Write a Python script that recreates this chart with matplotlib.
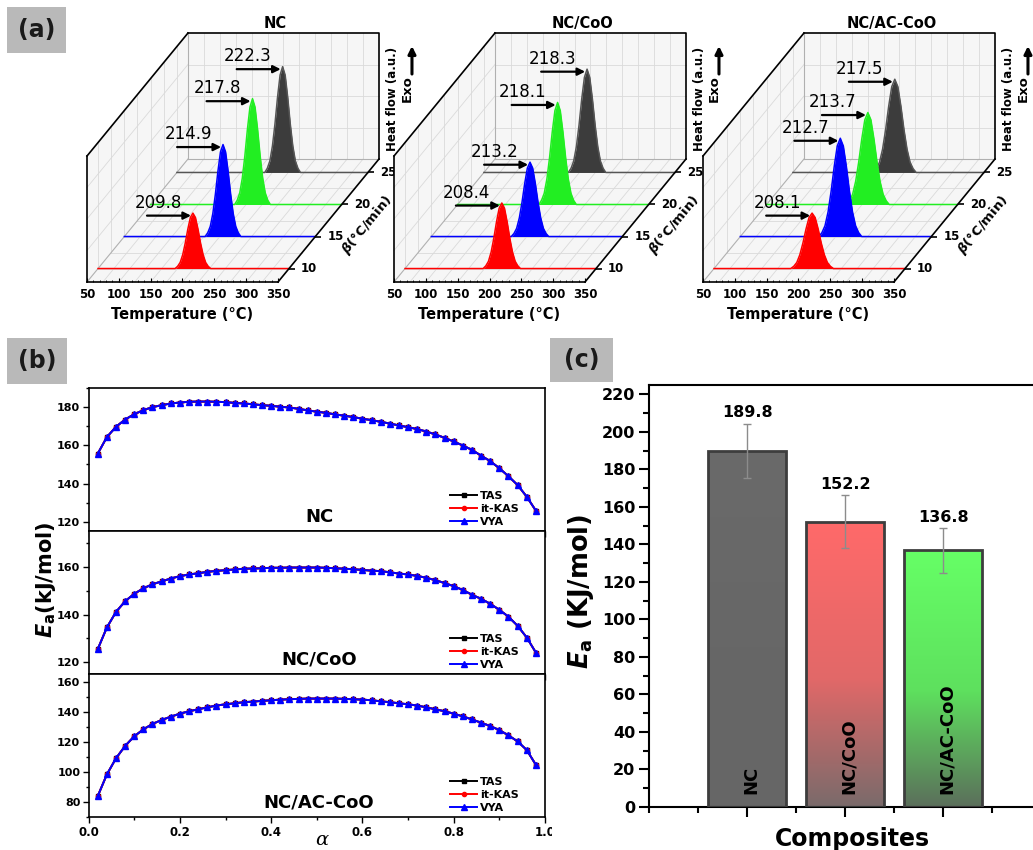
"""
Three-panel kinetics figure: DSC waterfalls (a), isoconversional Ea curves (b)
and the mean activation energy per composite (c).
"""
import numpy as np
import matplotlib.pyplot as plt
from matplotlib.patches import Polygon, Rectangle
from matplotlib.colors import LinearSegmentedColormap
from matplotlib.ticker import MultipleLocator, NullFormatter
from matplotlib.transforms import offset_copy

plt.rcParams["font.family"] = ["DejaVu Sans"]
plt.rcParams["font.weight"] = "bold"
plt.rcParams["axes.labelweight"] = "bold"
plt.rcParams["mathtext.fontset"] = "custom"
plt.rcParams["mathtext.rm"] = "DejaVu Sans:bold"
plt.rcParams["mathtext.it"] = "DejaVu Sans:italic:bold"
plt.rcParams["mathtext.bf"] = "DejaVu Sans:bold"

FIG_W, FIG_H = 1033, 850

# ---------------- panel (a): DSC curves ----------------
samples = ["NC", "NC/CoO", "NC/AC-CoO"]
heating_rates = [10, 15, 20, 25]
peak_labels = [[209.8, 214.9, 217.8, 222.3],
               [208.4, 213.2, 218.1, 218.3],
               [208.1, 212.7, 213.7, 217.5]]
# where the peaks sit on the drawn temperature axis
peak_centres = [[199, 205, 210, 216],
                [202, 205, 207, 212],
                [204, 207, 209, 210]]
peak_heights = [[0.44, 0.73, 0.84, 0.84],
                [0.52, 0.59, 0.81, 0.82],
                [0.44, 0.78, 0.73, 0.74]]
peak_widths = [1.0, 1.05, 1.2]
# peak outline (offset in °C, relative heat flow)
shape_dT = [-28, -24, -20, -16, -12, -8, -4, 0, 4, 8, 12, 16, 20, 24, 28]
shape_h = [0, 0.04, 0.11, 0.25, 0.46, 0.71, 0.92, 1, 0.92, 0.71, 0.46, 0.25, 0.11, 0.04, 0]
fill_colors = ["#ff0000", "#0000ff", "#22ee22", "#3c3c3c"]
line_colors = ["#ff0000", "#0000ff", "#22ee22", "#555555"]

# ---------------- panel (b): Ea vs conversion ----------------
alpha = np.round(np.arange(1, 50) * 0.02, 2)
ea_nc = [155.6, 164.3, 169.7, 173.5, 176.3, 178.4, 180.0, 181.0, 181.9, 182.4,
         182.8, 182.9, 182.9, 182.8, 182.6, 182.2, 181.9, 181.5, 181.0, 180.7,
         180.2, 179.8, 179.1, 178.3, 177.6, 177.0, 176.2, 175.5, 174.8, 173.9,
         173.2, 172.3, 171.4, 170.4, 169.5, 168.5, 167.2, 165.7, 163.9, 162.0,
         159.9, 157.6, 154.6, 151.7, 148.0, 143.8, 139.2, 133.1, 125.8]
ea_nc_coo = [125.5, 134.6, 141.1, 145.6, 148.7, 151.0, 152.7, 153.9, 155.1, 156.1,
             156.8, 157.3, 157.9, 158.3, 158.6, 158.9, 159.2, 159.3, 159.4, 159.6,
             159.6, 159.7, 159.7, 159.7, 159.7, 159.6, 159.4, 159.2, 159.0, 158.7,
             158.4, 158.2, 157.7, 157.2, 156.8, 156.2, 155.4, 154.4, 153.2, 151.9,
             150.3, 148.3, 146.6, 144.5, 142.0, 139.1, 135.3, 130.4, 124.1]
ea_nc_ac_coo = [84.0, 98.4, 109.1, 117.3, 123.7, 128.3, 131.9, 134.5, 136.7, 138.7,
                140.3, 141.6, 142.9, 144.1, 144.9, 145.6, 146.3, 146.7, 147.2, 147.6,
                148.0, 148.3, 148.5, 148.7, 148.7, 148.7, 148.7, 148.5, 148.3, 148.0,
                147.6, 146.9, 146.3, 145.6, 144.9, 144.1, 142.9, 141.6, 140.3, 138.7,
                136.9, 134.9, 132.7, 130.5, 127.8, 124.3, 120.3, 114.6, 104.8]
ea_curves = [ea_nc, ea_nc_coo, ea_nc_ac_coo]
methods = ["TAS", "it-KAS", "VYA"]
method_colors = ["black", "red", "blue"]
method_markers = ["s", "o", "^"]
method_sizes = [2.8, 3.0, 4.6]

# ---------------- panel (c): mean Ea ----------------
composites = ["NC", "NC/CoO", "NC/AC-CoO"]
ea_mean = [189.8, 152.2, 136.8]
ea_err = [14.3, 14.0, 11.8]
bar_gradients = [["#666666", "#676767", "#6a6a6a"],
                 ["#7a6b6b", "#e26868", "#ff6a6a"],
                 ["#5b6f5b", "#5ee05e", "#66ff66"]]

# oblique projection for the waterfall: full depth shift in front-face data units
KX, KY = 158.6, 0.976
B0, B1 = 7.9, 27.1


def oblique(T, H, beta):
    d = (np.asarray(beta, float) - B0) / (B1 - B0)
    return np.asarray(T, float) + KX * d, np.asarray(H, float) + KY * d


def pt(T, H, beta):
    x, y = oblique(T, H, beta)
    return float(x), float(y)


def fig_rect(left, top, width, height):
    return [left / FIG_W, 1 - (top + height) / FIG_H, width / FIG_W, height / FIG_H]


def draw_dsc(fig, ax, k):
    ax.set_xlim(50, 350)
    ax.set_ylim(0, 1)
    ax.patch.set_visible(False)
    for side in ("top", "right"):
        ax.spines[side].set_visible(False)
    for side in ("left", "bottom"):
        ax.spines[side].set_linewidth(1.2)
        ax.spines[side].set_zorder(4)
    ax.set_yticks([])
    ax.xaxis.set_major_locator(MultipleLocator(50))
    ax.xaxis.set_minor_locator(MultipleLocator(10))
    ax.tick_params(axis="x", which="both", direction="in", pad=4, labelsize=8.5)
    ax.tick_params(axis="x", which="major", length=3)
    ax.tick_params(axis="x", which="minor", length=1.5)
    ax.set_xlabel("Temperature (°C)", fontsize=10.5, labelpad=5)

    # walls
    walls = [oblique([50, 350, 350, 50], [0, 0, 1, 1], B1),
             oblique([50, 350, 350, 50], 0, [B0, B0, B1, B1]),
             oblique(50, [0, 1, 1, 0], [B0, B0, B1, B1])]
    for wx, wy in walls:
        ax.add_patch(Polygon(np.column_stack(np.broadcast_arrays(wx, wy)), closed=True,
                             fc="#f6f6f6", ec="none", zorder=0, clip_on=False))
    grid_kw = dict(color="#dadada", lw=0.6, zorder=0.5, clip_on=False)
    for T in np.arange(75, 350, 25):
        ax.plot(*oblique([T, T], [0, 1], B1), **grid_kw)
        ax.plot(*oblique([T, T], [0, 0], [B0, B1]), **grid_kw)
    for H in (0.25, 0.5, 0.75):
        ax.plot(*oblique([50, 350], [H, H], B1), **grid_kw)
        ax.plot(*oblique([50, 50], [H, H], [B0, B1]), **grid_kw)
    for b in np.arange(10, 27, 2.5):
        ax.plot(*oblique([50, 50], [0, 1], b), **grid_kw)
        ax.plot(*oblique([50, 350], [0, 0], b), **grid_kw)
    faint_kw = dict(color="#b0b0b0", lw=0.8, zorder=0.6, clip_on=False)
    ax.plot(*oblique([50, 50], [0, 1], B1), **faint_kw)
    ax.plot(*oblique([50, 350], [0, 0], B1), **faint_kw)
    ax.plot(*oblique([50, 50], [0, 0], [B0, B1]), **faint_kw)

    edge_kw = dict(color="black", lw=1.2, zorder=4, clip_on=False)
    ax.plot(*oblique([50, 50], [1, 1], [B0, B1]), **edge_kw)
    ax.plot(*oblique([50, 350, 350], [1, 1, 0], B1), **edge_kw)
    ax.plot(*oblique([350, 350], [0, 0], [B0, B1]), **edge_kw)

    # traces, back to front
    for j in reversed(range(len(heating_rates))):
        beta = heating_rates[j]
        T = np.concatenate([[50], peak_centres[k][j] + np.array(shape_dT) * peak_widths[k], [350]])
        H = np.concatenate([[0], peak_heights[k][j] * np.array(shape_h), [0]])
        x, y = oblique(T, H, beta)
        _, y0 = oblique(T, np.zeros_like(T), beta)
        z = 2 + (3 - j) * 0.1
        ax.fill_between(x, y0, y, color=fill_colors[j], lw=0, zorder=z, clip_on=False)
        ax.plot(x, y, color=line_colors[j], lw=1.1, zorder=z, clip_on=False)

    # peak temperature arrows
    for j, beta in enumerate(heating_rates):
        tip = pt(peak_centres[k][j] - 3, peak_heights[k][j] - 0.02, beta)
        ax.annotate("", xy=tip, xytext=(-44, 0), textcoords="offset pixels",
                    arrowprops=dict(arrowstyle="-|>", color="black", lw=1.6,
                                    mutation_scale=11, shrinkA=0, shrinkB=0),
                    annotation_clip=False, zorder=5)
        ax.annotate(f"{peak_labels[k][j]:.1f}", xy=tip, xytext=(-33, 13),
                    textcoords="offset pixels", ha="center", va="center",
                    fontsize=12, fontweight="normal", annotation_clip=False, zorder=5)

    # heating-rate axis
    for b in heating_rates:
        ax.plot(*pt(350, 0, b), marker=1, ms=4, mew=1.2, color="black", clip_on=False, zorder=4)
        ax.annotate(str(b), xy=pt(350, 0, b), xytext=(12, 0), textcoords="offset pixels",
                    ha="left", va="center", fontsize=8.5, annotation_clip=False)
    ax.annotate(r"$\beta$(°C/min)", xy=pt(350, 0, (B0 + B1) / 2), xytext=(39, -4),
                textcoords="offset pixels", ha="center", va="center", rotation=50.6,
                fontsize=9.5, annotation_clip=False)

    ax.annotate(samples[k], xy=pt(200, 1, B1), xytext=(-8, 10), textcoords="offset pixels",
                ha="center", va="center", fontsize=10.5, annotation_clip=False)
    corner = pt(350, 1, B1)
    ax.annotate("Heat flow (a.u.)", xy=corner, xytext=(14, -66), textcoords="offset pixels",
                ha="center", va="center", rotation=90, fontsize=8.5, annotation_clip=False)
    ax.annotate("Exo", xy=corner, xytext=(28, -56), textcoords="offset pixels",
                ha="center", va="center", rotation=90, fontsize=9.5, annotation_clip=False)
    head = offset_copy(ax.transData, fig=fig, x=33, y=-13, units="dots")
    ax.annotate("", xy=corner, xycoords=head, xytext=(0, -28), textcoords="offset pixels",
                arrowprops=dict(arrowstyle="-|>", color="black", lw=2.2,
                                mutation_scale=11, shrinkA=0, shrinkB=0),
                annotation_clip=False)


fig = plt.figure(figsize=(FIG_W / 100, FIG_H / 100), dpi=100)

# (a)
for k, left in enumerate([87, 394, 703]):
    ax = fig.add_axes(fig_rect(left, 156, 191, 126))
    draw_dsc(fig, ax, k)

# (b)
b_limits = [(115, 190), (115, 175), (70, 165)]
b_axes = []
for i, top in enumerate([388, 531, 674]):
    ax = fig.add_axes(fig_rect(88.6, top, 456.4, 143.3))
    for name, col, mk, ms in zip(methods, method_colors, method_markers, method_sizes):
        ax.plot(alpha, ea_curves[i], color=col, marker=mk, ms=ms, lw=1.4, label=name)
    ax.set_xlim(0, 1)
    ax.set_ylim(*b_limits[i])
    ax.xaxis.set_major_locator(MultipleLocator(0.2))
    ax.xaxis.set_minor_locator(MultipleLocator(0.1))
    ax.yaxis.set_major_locator(MultipleLocator(20))
    ax.yaxis.set_minor_locator(MultipleLocator(10))
    ax.tick_params(which="both", direction="out", width=1, labelsize=8, pad=2)
    ax.tick_params(axis="x", labelsize=8.5)
    ax.tick_params(which="major", length=4)
    ax.tick_params(which="minor", length=2.5)
    for s in ax.spines.values():
        s.set_linewidth(1.2)
    if i < 2:
        ax.tick_params(labelbottom=False)
    ax.legend(loc="lower right", bbox_to_anchor=(0.953, 0.0), frameon=False,
              prop=dict(size=8, weight="bold"), handlelength=2.4, handletextpad=0.3,
              labelspacing=0.25, borderaxespad=0)
    ax.text(0.505, 0.10, samples[i], transform=ax.transAxes, ha="center", va="center",
            fontsize=13)
    b_axes.append(ax)
b_axes[1].set_ylabel(r"$E_\mathrm{a}$(kJ/mol)", fontsize=15)
b_axes[1].yaxis.set_label_coords(-0.067, 0.66)
b_axes[2].set_xlabel("α", fontsize=14, fontweight="normal", style="italic", family="DejaVu Serif")
b_axes[2].xaxis.set_label_coords(0.511, -0.095)

# mask that trims (b) where (c) begins
fig.patches.append(Rectangle((552 / FIG_W, 0), 1 - 552 / FIG_W, 520 / FIG_H,
                             transform=fig.transFigure, fc="white", ec="none", zorder=1))

# (c)
axc = fig.add_axes(fig_rect(649, 385, 392, 422), zorder=2)
xpos = np.arange(1, len(composites) + 1)
bars = axc.bar(xpos, ea_mean, width=0.8, fc="none", ec="#3d3d3d", lw=2, zorder=3)
grad = np.linspace(0, 1, 256).reshape(-1, 1)
for bar, cols, val in zip(bars, bar_gradients, ea_mean):
    cmap = LinearSegmentedColormap.from_list("bar", list(zip([0, 0.45, 1], cols)))
    x0 = bar.get_x()
    im = axc.imshow(grad, cmap=cmap, origin="lower", aspect="auto", zorder=2,
                    extent=(x0, x0 + bar.get_width(), 0, val))
    im.set_clip_path(bar)
axc.errorbar(xpos, ea_mean, yerr=ea_err, fmt="none", ecolor="#8c8c8c", elinewidth=1,
             capsize=3, capthick=1, zorder=4)
for x, m, e, name in zip(xpos, ea_mean, ea_err, composites):
    axc.text(x, m + e + 2, f"{m:.1f}", ha="center", va="bottom", fontsize=11.5)
    axc.text(x + 0.04, 7, name, rotation=90, ha="center", va="bottom", fontsize=13, zorder=5)
axc.set_xlim(0, 4)
axc.set_ylim(0, 225)
axc.set_xticks(xpos)
axc.xaxis.set_major_formatter(NullFormatter())
axc.xaxis.set_minor_locator(MultipleLocator(0.5))
axc.yaxis.set_major_locator(MultipleLocator(20))
axc.yaxis.set_minor_locator(MultipleLocator(10))
axc.tick_params(which="both", direction="out", width=1.5, labelsize=11.5, pad=3)
axc.tick_params(which="major", length=7)
axc.tick_params(which="minor", length=4)
for s in axc.spines.values():
    s.set_linewidth(1.5)
axc.set_ylabel(r"$E_\mathrm{a}$ (KJ/mol)", fontsize=18.5)
axc.yaxis.set_label_coords(-0.135, 0.51)
axc.set_xlabel("Composites", fontsize=17)
axc.xaxis.set_label_coords(0.52, -0.047)

# panel tags
for tag, (l, t, w, h) in zip(["(a)", "(b)", "(c)"],
                             [(7, 7, 59, 46), (7, 338, 60, 46), (550, 338, 63, 44)]):
    fig.patches.append(Rectangle((l / FIG_W, 1 - (t + h) / FIG_H), w / FIG_W, h / FIG_H,
                                 transform=fig.transFigure, fc="#b9b9b9", ec="none", zorder=5))
    fig.text((l + w / 2) / FIG_W, 1 - (t + h / 2) / FIG_H, tag, ha="center", va="center",
             fontsize=17, color="#1a1a1a", zorder=6)

fig.savefig("out.png", dpi=100)
plt.close(fig)
